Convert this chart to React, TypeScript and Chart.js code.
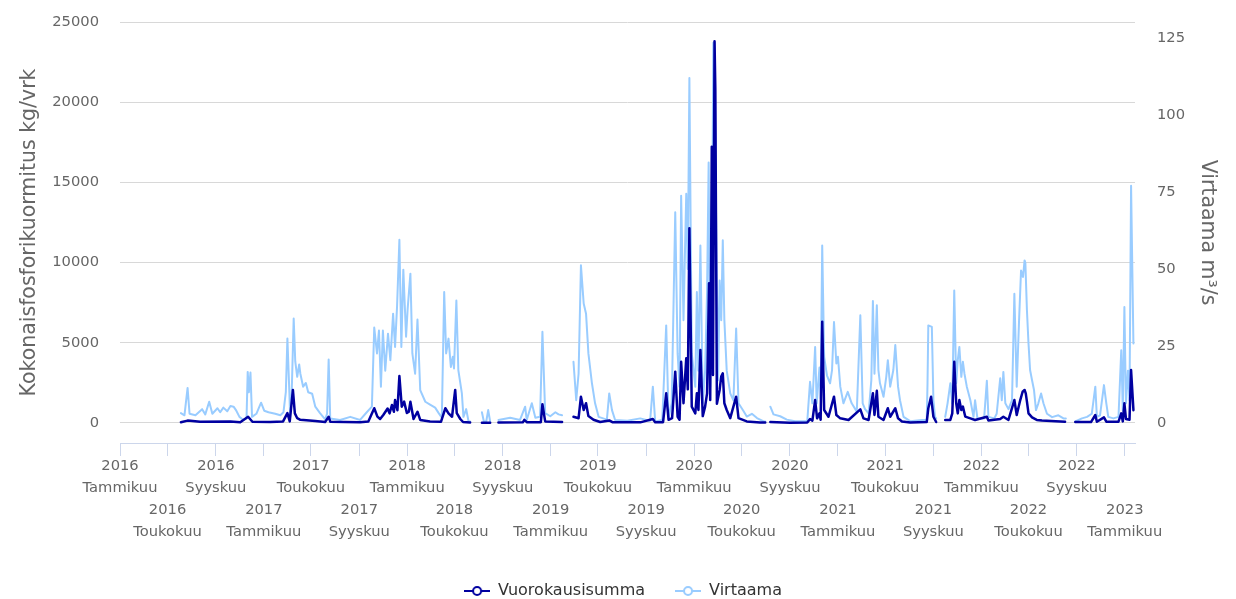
import React, { useEffect, useRef } from "react";
import { Chart, registerables } from "chart.js";

Chart.register(...registerables);

// ---------- data ----------
const loadLabel = "Vuorokausisumma";
const flowLabel = "Virtaama";
const leftTitle = "Kokonaisfosforikuormitus kg/vrk";
const rightTitle = "Virtaama m³/s";

const loadDates = [
  "2016-06-04","2016-06-21","2016-07-23","2016-10-08","2016-11-02","2016-11-22","2016-12-03",
  "2017-01-17","2017-02-19","2017-03-02","2017-03-08","2017-03-16","2017-03-21","2017-03-27","2017-04-04","2017-05-12","2017-06-06","2017-06-15","2017-06-19","2017-09-03","2017-09-24","2017-10-09","2017-10-17","2017-10-24","2017-11-01","2017-11-12","2017-11-17","2017-11-23","2017-11-28","2017-12-01","2017-12-07","2017-12-12","2017-12-18","2017-12-24","2017-12-31",
  "2018-01-05","2018-01-09","2018-01-17","2018-01-27","2018-02-03","2018-02-28","2018-03-28","2018-04-08","2018-04-16","2018-04-25","2018-05-03","2018-05-07","2018-05-16","2018-05-23","2018-06-10","2018-06-25","2018-07-10","2018-07-31","2018-08-10","2018-08-21","2018-10-22","2018-10-26","2018-11-02","2018-12-07","2018-12-11","2018-12-18",
  "2019-01-30","2019-02-14","2019-02-28","2019-03-13","2019-03-19","2019-03-26","2019-04-01","2019-04-07","2019-04-20","2019-05-07","2019-05-30","2019-06-07","2019-08-17","2019-09-18","2019-09-24","2019-10-14","2019-10-22","2019-10-28","2019-11-06","2019-11-14","2019-11-20","2019-11-25","2019-11-29","2019-12-05","2019-12-12","2019-12-16","2019-12-20","2019-12-26",
  "2020-01-04","2020-01-08","2020-01-12","2020-01-17","2020-01-23","2020-01-29","2020-02-03","2020-02-08","2020-02-11","2020-02-15","2020-02-18","2020-02-22","2020-02-24","2020-02-28","2020-03-06","2020-03-10","2020-03-14","2020-03-18","2020-03-24","2020-04-02","2020-04-17","2020-04-23","2020-05-14","2020-06-17","2020-06-30","2020-07-06","2020-07-13","2020-09-01","2020-10-15","2020-10-22","2020-10-28","2020-11-04","2020-11-09","2020-11-15","2020-11-18","2020-11-22","2020-11-27","2020-12-08","2020-12-22","2020-12-28",
  "2021-01-07","2021-01-28","2021-02-27","2021-03-07","2021-03-20","2021-03-31","2021-04-04","2021-04-10","2021-04-14","2021-04-27","2021-05-08","2021-05-14","2021-05-27","2021-06-03","2021-06-13","2021-07-04","2021-08-15","2021-08-19","2021-08-26","2021-09-01","2021-09-08","2021-09-20","2021-10-01","2021-10-14","2021-10-19","2021-10-24","2021-10-29","2021-11-02","2021-11-06","2021-11-11","2021-11-15","2021-11-21","2021-12-04","2021-12-16",
  "2022-01-15","2022-01-19","2022-02-18","2022-02-26","2022-03-11","2022-03-26","2022-04-01","2022-04-10","2022-04-16","2022-04-21","2022-04-24","2022-04-27","2022-05-01","2022-05-10","2022-05-22","2022-06-04","2022-08-02","2022-08-16","2022-08-28","2022-10-07","2022-10-18","2022-10-22","2022-11-09","2022-11-15","2022-12-16","2022-12-23","2022-12-27","2022-12-31",
  "2023-01-04","2023-01-13","2023-01-17","2023-01-23",
];
const loadValues = [
  50,150,80,100,50,390,80,
  60,100,620,100,2060,600,300,200,120,60,390,80,50,100,920,400,250,500,900,600,1120,700,1430,800,2930,1020,1330,620,
  700,1330,250,700,190,100,80,920,600,390,2060,620,250,60,30,null,20,20,null,30,40,200,40,50,1170,100,
  60,null,390,300,1640,810,1230,430,200,60,160,50,40,250,40,50,1850,200,300,3200,390,200,3820,1230,4030,2100,12140,1020,
  600,1850,810,4550,430,1020,1850,8710,1430,17230,3000,23800,20800,1200,2060,2890,3100,1230,810,300,1640,300,100,30,30,null,60,20,30,250,150,1430,290,600,200,6320,810,390,1640,500,
  290,190,850,290,190,1850,500,2010,390,190,920,390,920,290,100,30,60,920,1640,390,60,null,190,190,600,3820,1230,600,1430,810,1020,400,290,190,
  390,150,250,390,190,1430,500,1430,1950,2060,1850,1330,600,350,190,150,80,null,60,60,500,80,350,80,80,600,100,1230,
  250,200,3300,800,
];

const flowDates = [
  "2016-06-04","2016-06-13","2016-06-21","2016-06-26","2016-07-11","2016-07-28","2016-08-05","2016-08-15","2016-08-23","2016-09-05","2016-09-12","2016-09-20","2016-09-30","2016-10-08","2016-10-16","2016-10-23","2016-10-31","2016-11-10","2016-11-18","2016-11-21","2016-11-24","2016-11-28","2016-12-02","2016-12-13","2016-12-25",
  "2017-01-02","2017-01-13","2017-01-30","2017-02-12","2017-02-20","2017-02-26","2017-03-02","2017-03-07","2017-03-09","2017-03-13","2017-03-18","2017-03-22","2017-03-27","2017-04-01","2017-04-04","2017-04-11","2017-04-18","2017-04-24","2017-05-04","2017-05-12","2017-05-24","2017-06-06","2017-06-11","2017-06-15","2017-06-19","2017-07-14","2017-08-09","2017-09-03","2017-09-20","2017-10-03","2017-10-09","2017-10-16","2017-10-21","2017-10-26","2017-10-31","2017-11-06","2017-11-13","2017-11-19","2017-11-26","2017-12-01","2017-12-06","2017-12-12","2017-12-17","2017-12-22","2017-12-29",
  "2018-01-02","2018-01-09","2018-01-14","2018-01-21","2018-01-27","2018-02-03","2018-02-16","2018-02-28","2018-03-13","2018-03-22","2018-03-30","2018-04-05","2018-04-10","2018-04-16","2018-04-22","2018-04-27","2018-04-30","2018-05-06","2018-05-11","2018-05-20","2018-05-24","2018-05-31","2018-06-06","2018-06-10","2018-06-25","2018-07-10","2018-07-15","2018-07-21","2018-07-26","2018-07-31","2018-08-10","2018-08-21","2018-09-20","2018-10-15","2018-10-28","2018-11-01","2018-11-14","2018-11-23","2018-12-05","2018-12-11","2018-12-18","2018-12-31",
  "2019-01-13","2019-01-21","2019-01-30","2019-02-14","2019-02-28","2019-03-07","2019-03-13","2019-03-19","2019-03-26","2019-04-01","2019-04-07","2019-04-16","2019-04-24","2019-05-03","2019-05-24","2019-05-30","2019-06-06","2019-06-14","2019-07-15","2019-08-17","2019-09-11","2019-09-18","2019-09-24","2019-10-12","2019-10-22","2019-10-28","2019-11-05","2019-11-14","2019-11-20","2019-11-25","2019-11-29","2019-12-05","2019-12-12","2019-12-16","2019-12-20","2019-12-26",
  "2020-01-04","2020-01-08","2020-01-12","2020-01-17","2020-01-23","2020-01-29","2020-02-03","2020-02-07","2020-02-11","2020-02-15","2020-02-19","2020-02-22","2020-02-26","2020-03-02","2020-03-06","2020-03-10","2020-03-14","2020-03-18","2020-03-24","2020-04-02","2020-04-10","2020-04-17","2020-04-23","2020-05-06","2020-05-14","2020-05-27","2020-06-09","2020-06-26","2020-06-30","2020-07-06","2020-07-13","2020-07-21","2020-08-07","2020-08-24","2020-09-14","2020-10-15","2020-10-22","2020-10-28","2020-11-04","2020-11-08","2020-11-15","2020-11-18","2020-11-22","2020-11-27","2020-12-04","2020-12-12","2020-12-17","2020-12-22","2020-12-28",
  "2021-01-01","2021-01-07","2021-01-15","2021-01-26","2021-02-05","2021-02-18","2021-02-27","2021-03-05","2021-03-11","2021-03-20","2021-03-27","2021-03-31","2021-04-04","2021-04-10","2021-04-14","2021-04-18","2021-04-27","2021-05-04","2021-05-08","2021-05-14","2021-05-22","2021-05-27","2021-06-03","2021-06-08","2021-06-17","2021-07-04","2021-08-03","2021-08-15","2021-08-17","2021-08-19","2021-08-28","2021-09-01","2021-09-05","2021-09-08","2021-09-20","2021-10-01","2021-10-07","2021-10-14","2021-10-19","2021-10-24","2021-10-29","2021-11-02","2021-11-06","2021-11-11","2021-11-15","2021-11-19","2021-11-25","2021-12-04","2021-12-12","2021-12-16","2021-12-22",
  "2022-01-08","2022-01-15","2022-01-19","2022-02-03","2022-02-09","2022-02-18","2022-02-22","2022-02-26","2022-03-03","2022-03-11","2022-03-20","2022-03-26","2022-04-01","2022-04-07","2022-04-12","2022-04-17","2022-04-21","2022-04-23","2022-04-27","2022-05-01","2022-05-05","2022-05-10","2022-05-15","2022-05-20","2022-05-26","2022-06-02","2022-06-08","2022-06-17","2022-06-30","2022-07-16","2022-07-29","2022-08-04","2022-08-16","2022-08-28","2022-09-14","2022-09-27","2022-10-09","2022-10-18","2022-10-22","2022-10-30","2022-11-09","2022-11-15","2022-11-20","2022-12-03","2022-12-16","2022-12-23","2022-12-27","2022-12-31",
  "2023-01-04","2023-01-09","2023-01-13","2023-01-17","2023-01-23",
];
const flowValues = [
  3.2,2.5,11.4,3,2.5,4.5,2.8,6.9,3,4.8,3.5,5,3.8,5.5,5.3,4,2,1,1.5,16.6,10,16.4,2,3,6.6,
  4,3.5,3,2.5,3.5,10,27.4,10,2,10,33.9,20,15,19,16,11.8,13,10,9.5,5.3,3.2,1.2,3,20.6,1.5,1,2,1,3.5,5.3,31,22.6,30,11.8,30,17,29,20.4,35.5,24.7,37.7,59.5,24.7,49.8,28,
  37,48.5,22.6,16,33.6,10.7,6.9,6,5,3.2,1.7,42.5,22.6,27.4,18.2,21.5,17.7,39.8,17.2,9.6,2,4.5,0.5,0.5,null,3.5,0.5,0.5,4.2,0.5,null,1,1.7,1,5.3,1,6.4,1.7,2,29.6,3.2,2.2,
  3.5,2.8,2.5,null,19.9,7.4,16,51.2,38.8,35.5,22.6,12.9,6.4,2,1.1,9.6,4.2,1,0.7,1.5,0.7,11.8,0.5,1,31.7,1.6,6.4,68.4,22.6,11.8,73.8,33.4,74.4,50,112,22.6,
  11.8,42.5,17,57.6,6.4,17,42.5,84.6,11.8,45,123.5,123.5,65.7,13.9,46.3,33.4,59.3,33.4,17,9.6,7.4,30.7,6.4,3.8,2.1,3,1.6,0.5,0.5,null,5.3,2.8,2.2,1.1,0.6,0.6,13.4,6.4,24.7,6.4,18,8,57.6,21.5,15.5,12.9,17.2,32.8,19.3,
  21.5,11.8,6.4,10.1,6.4,3.7,35,6.4,4.5,3.1,13.9,39.6,16,38.2,17.2,12.9,8.5,15,20.4,11.8,17.2,25.3,11.8,7.4,2,0.6,1,1,12.9,31.7,31.2,7.4,2,1.5,null,2,6.4,12.9,6.4,43,12.9,20.4,24.7,15,19.9,16,11.8,7.4,2,7.4,1.5,
  1.5,13.7,2,1.5,3,14.5,7.4,16.6,6.4,4.5,7.4,42,11.8,33.4,49.5,47.4,52.8,52,36.6,25.8,17.2,13.9,10.7,4.2,6.4,9.6,6.4,3,1.9,2.5,1.5,1.5,null,0.5,1.5,2,3,11.8,2,2.5,12.3,6.4,2,1.5,2,23.6,4,37.7,
  6.4,17,7.4,77,25.8,
];

const xTickDates = [
  "2016-01-01","2016-05-01","2016-09-01","2017-01-01","2017-05-01","2017-09-01",
  "2018-01-01","2018-05-01","2018-09-01","2019-01-01","2019-05-01","2019-09-01",
  "2020-01-01","2020-05-01","2020-09-01","2021-01-01","2021-05-01","2021-09-01",
  "2022-01-01","2022-05-01","2022-09-01","2023-01-01",
];
const monthNamesFi: Record<number, string> = { 1: "Tammikuu", 5: "Toukokuu", 9: "Syyskuu" };
const xStart = "2016-01-01";
const xEnd = "2023-01-27";
const loadTicks = [0, 5000, 10000, 15000, 20000, 25000];
const flowTicks = [0, 25, 50, 75, 100, 125];

// ---------- style ----------
const LOAD_COLOR = "#0000a0";
const FLOW_COLOR = "#99ccff";
const FONT = "'DejaVu Sans', sans-serif";

const toMs = (s: string) => {
  const [y, m, d] = s.split("-").map(Number);
  return Date.UTC(y, m - 1, d);
};

function makeIcon(color: string) {
  const c = document.createElement("canvas");
  c.width = 26;
  c.height = 12;
  const ctx = c.getContext("2d")!;
  ctx.strokeStyle = color;
  ctx.lineWidth = 2;
  ctx.beginPath();
  ctx.moveTo(0, 6);
  ctx.lineTo(26, 6);
  ctx.stroke();
  ctx.beginPath();
  ctx.arc(13, 6, 4, 0, Math.PI * 2);
  ctx.fillStyle = "#ffffff";
  ctx.fill();
  ctx.stroke();
  return c;
}

export default function App() {
  const ref = useRef<HTMLCanvasElement | null>(null);

  useEffect(() => {
    if (!ref.current) return;
    Chart.defaults.font.family = FONT;

    const loadData = loadDates.map((d, i) => ({ x: toMs(d), y: loadValues[i] }));
    const flowData = flowDates.map((d, i) => ({ x: toMs(d), y: flowValues[i] }));

    const tickFont = { size: 14.7, family: FONT };

    const chart = new Chart(ref.current, {
      type: "line",
      data: {
        datasets: [
          {
            label: loadLabel,
            data: loadData as any,
            yAxisID: "y",
            borderColor: LOAD_COLOR,
            backgroundColor: LOAD_COLOR,
            borderWidth: 2.5,
            borderJoinStyle: "round",
            borderCapStyle: "round",
            pointRadius: 0,
            pointHoverRadius: 0,
            pointStyle: makeIcon(LOAD_COLOR) as any,
            tension: 0,
            spanGaps: false,
          },
          {
            label: flowLabel,
            data: flowData as any,
            yAxisID: "y1",
            borderColor: FLOW_COLOR,
            backgroundColor: FLOW_COLOR,
            borderWidth: 2,
            borderJoinStyle: "round",
            borderCapStyle: "round",
            pointRadius: 0,
            pointHoverRadius: 0,
            pointStyle: makeIcon(FLOW_COLOR) as any,
            tension: 0,
            spanGaps: false,
          },
        ],
      },
      options: {
        animation: false,
        responsive: false,
        maintainAspectRatio: false,
        parsing: false as any,
        events: [],
        layout: { padding: { left: 10, right: 0, top: 22, bottom: -10 } },
        plugins: {
          legend: {
            position: "bottom",
            align: "center",
            labels: {
              usePointStyle: true,
              pointStyleWidth: 26,
              padding: 30,
              color: "#333333",
              font: { size: 16, family: FONT },
            },
          },
          tooltip: { enabled: false },
        },
        scales: {
          x: {
            type: "linear",
            min: toMs(xStart),
            max: toMs(xEnd),
            afterBuildTicks: (s: any) => {
              s.ticks = xTickDates.map((d) => ({ value: toMs(d) }));
            },
            afterFit: (s: any) => {
              s.height = 110;
            },
            grid: { drawOnChartArea: false, drawTicks: true, tickLength: 13, color: "#ccd6eb" },
            border: { display: true, color: "#ccd6eb", width: 1 },
            ticks: {
              autoSkip: false,
              maxRotation: 0,
              minRotation: 0,
              padding: -1,
              color: "#666666",
              font: { size: 14.7, family: FONT, lineHeight: 1.5 },
              callback: (v: any, i: number) => {
                const dt = new Date(Number(v));
                const yr = String(dt.getUTCFullYear());
                const mn = monthNamesFi[dt.getUTCMonth() + 1] || "";
                return i % 2 === 0 ? [yr, mn] : ["", "", yr, mn];
              },
            },
          },
          y: {
            position: "left",
            min: -1247,
            max: 25000,
            afterBuildTicks: (s: any) => {
              s.ticks = loadTicks.map((v) => ({ value: v }));
            },
            afterFit: (s: any) => {
              s.width = 110;
              s.paddingTop = 0;
              s.paddingBottom = 0;
            },
            grid: { color: "#d8d8d8", drawTicks: false, lineWidth: 1 },
            border: { display: false },
            ticks: { padding: 21, color: "#666666", font: tickFont, callback: (v: any) => String(v) },
            title: {
              display: true,
              text: leftTitle,
              color: "#666666",
              font: { size: 20.5, family: FONT, lineHeight: 1.2 },
              padding: { top: 7.7, bottom: 0 },
            },
          },
          y1: {
            position: "right",
            min: -6.49,
            max: 130.2,
            afterBuildTicks: (s: any) => {
              s.ticks = flowTicks.map((v) => ({ value: v }));
            },
            afterFit: (s: any) => {
              s.width = 101;
              s.paddingTop = 0;
              s.paddingBottom = 0;
            },
            grid: { display: false, drawTicks: false, drawOnChartArea: false },
            border: { display: false },
            ticks: { padding: 22, color: "#666666", font: tickFont, callback: (v: any) => String(v) },
            title: {
              display: true,
              text: rightTitle,
              color: "#666666",
              font: { size: 20.5, family: FONT, lineHeight: 1.2 },
              padding: { top: 16.7, bottom: 0 },
            },
          },
        },
      } as any,
    });

    return () => chart.destroy();
  }, []);

  return (
    <div style={{ position: "fixed", left: 0, top: 0, width: 1236, height: 599, background: "#ffffff" }}>
      <canvas ref={ref} width={1236} height={599} style={{ display: "block" }} />
    </div>
  );
}
